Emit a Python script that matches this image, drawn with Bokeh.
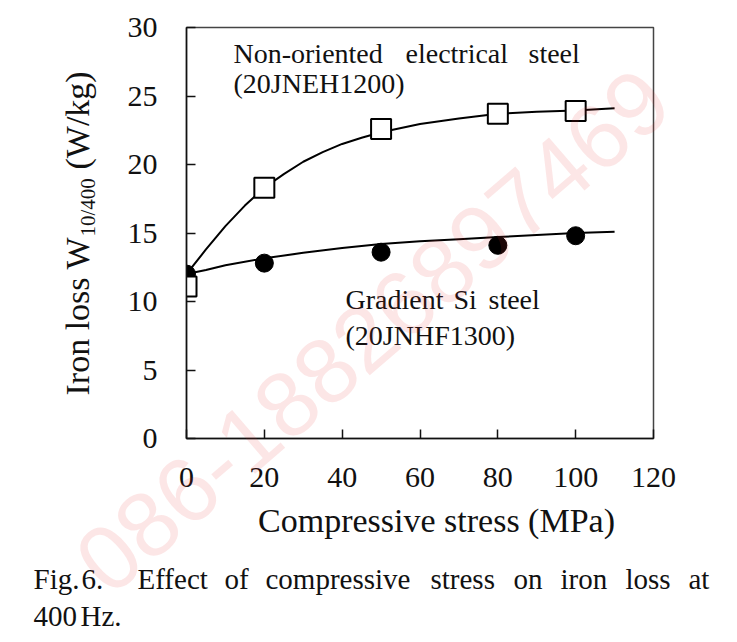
import math
from bokeh.plotting import figure
from bokeh.models import Range1d, Label, GridBox, Column
from bokeh.embed import file_html
from bokeh.resources import INLINE

# ---- data ----
stress = [0, 20, 50, 80, 100]
non_oriented = [11.1, 18.3, 22.6, 23.7, 23.9]      # 20JNEH1200, open squares
gradient_si = [12.0, 12.8, 13.6, 14.1, 14.8]       # 20JNHF1300, filled circles

fit_stress_no = [0, 5, 10, 15, 20, 25, 30, 35, 40, 45, 50, 60, 70, 80, 90, 100, 110]
fit_no = [12.0, 13.8, 15.5, 17.0, 18.3, 19.3, 20.2, 20.9, 21.5, 21.95, 22.35,
          22.95, 23.35, 23.7, 23.85, 23.95, 24.1]
fit_stress_gs = [0, 5, 10, 20, 30, 40, 50, 60, 70, 80, 90, 100, 110]
fit_gs = [12.0, 12.3, 12.65, 13.15, 13.55, 13.9, 14.2, 14.4, 14.55, 14.7, 14.85, 15.0, 15.1]

x_ticks = [0, 20, 40, 60, 80, 100, 120]
y_ticks = [0, 5, 10, 15, 20, 25, 30]

x_title = "Compressive stress (MPa)"
y_title = ["Iron loss W", "10/400", "(W/kg)"]
caption_line1 = ["Fig.", "6.", "Effect", "of", "compressive", "stress", "on", "iron", "loss", "at"]
caption_line2 = ["400", "Hz."]
watermark = "086-18826897469"

SERIF = "Liberation Serif"
W, H = 737, 640
FL, FR, FT, FB = 186, 653, 27, 438   # plot frame edges in page pixels

# ---------------- chart ----------------
p = figure(width=W, height=H, x_range=Range1d(0, 120), y_range=Range1d(0, 30),
           output_backend="svg", toolbar_location=None, title=None,
           min_border_left=FL, min_border_right=W - FR, min_border_top=FT,
           min_border_bottom=H - FB)
p.grid.visible = False
p.background_fill_color = "white"
p.border_fill_color = "white"
p.outline_line_color = "#444444"
p.outline_line_width = 1.5

for ax, ticks in ((p.xaxis, x_ticks), (p.yaxis, y_ticks)):
    ax.ticker = ticks
    ax.major_tick_in = 9
    ax.major_tick_out = 0
    ax.minor_tick_in = 0
    ax.minor_tick_out = 0
    ax.axis_line_color = "#111111"
    ax.axis_line_width = 1.5
    ax.major_tick_line_color = "#111111"
    ax.major_tick_line_width = 1.5
    ax.major_label_text_font = SERIF
    ax.major_label_text_font_size = "30px"
    ax.major_label_text_color = "#111111"
    ax.major_label_standoff = 29

p.line(fit_stress_no, fit_no, line_color="black", line_width=2)
p.line(fit_stress_gs, fit_gs, line_color="black", line_width=2)
p.scatter(stress, gradient_si, marker="circle", size=18, fill_color="black", line_color="black")
p.scatter(stress, non_oriented, marker="square", size=20, fill_color="white",
          line_color="black", line_width=2)

# ---------------- transparent text layer (page pixel coordinates) ----------------
t = figure(width=W, height=H, x_range=Range1d(0, W), y_range=Range1d(H, 0),
           output_backend="svg", toolbar_location=None, title=None,
           x_axis_type=None, y_axis_type=None,
           min_border=0, min_border_left=0, min_border_right=0,
           min_border_top=0, min_border_bottom=0)
t.grid.visible = False
t.outline_line_color = None
t.background_fill_alpha = 0
t.border_fill_alpha = 0

BASE_SHIFT = 0.35  # renderer draws "alphabetic" text slightly low; compensate


def txt(x, y, s, size, rotated=False, **kw):
    baseline = kw.pop("baseline", "alphabetic")
    if baseline == "alphabetic":
        if rotated:
            x -= BASE_SHIFT * size
        else:
            y -= BASE_SHIFT * size
    t.add_layout(Label(x=x, y=y, text=s, text_font=kw.pop("font", SERIF),
                       text_font_size=f"{size}px", text_color=kw.pop("color", "#111111"),
                       text_align=kw.pop("align", "left"),
                       text_baseline=baseline,
                       angle=math.pi / 2 if rotated else kw.pop("angle", 0), **kw))


# annotations in plot
for x, y, s in [(233, 63, "Non-oriented"), (405, 63, "electrical"), (528, 63, "steel"),
                (233, 93, "(20JNEH1200)"),
                (345, 309, "Gradient"), (453, 309, "Si"), (488, 309, "steel"),
                (345, 345, "(20JNHF1300)")]:
    txt(x, y, s, 28)

# axis titles
txt(436, 532, x_title, 34, align="center")
txt(89, 395, y_title[0], 34, rotated=True)
txt(95, 236, y_title[1], 21, rotated=True)
txt(89, 169, y_title[2], 34, rotated=True)

# caption (justified first line)
for x, s in zip([33, 81, 137, 224, 265, 430, 513, 560, 625, 688], caption_line1):
    txt(x, 589, s, 29)
for x, s in zip([33, 80], caption_line2):
    txt(x, 626, s, 29)

# watermark
txt(372, 330, watermark, 92, font="Liberation Sans", color="#e83030",
    align="center", baseline="middle", angle=math.radians(40.7), text_alpha=0.12)

layout = GridBox(children=[(p, 0, 0), (Column(children=[t]), 0, 0)])
open("out.html", "w").write(file_html(layout, INLINE))
